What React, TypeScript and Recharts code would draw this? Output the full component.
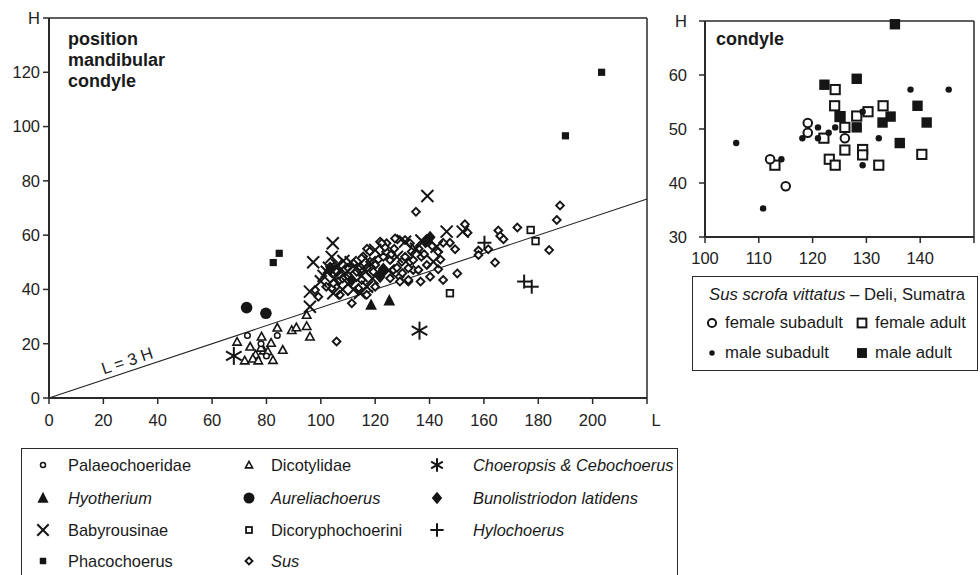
import React from 'react';
import {
  ScatterChart,
  Scatter,
  XAxis,
  YAxis,
  ReferenceLine,
  ReferenceDot,
} from 'recharts';

// ---- main chart: condyle height H against mandible length L ----
const mainXTicks = [0, 20, 40, 60, 80, 100, 120, 140, 160, 180, 200, 220];
const mainYTicks = [0, 20, 40, 60, 80, 100, 120, 140];

const palaeochoeridae: [number, number][] = [
  [73, 23], [84, 23], [78, 20], [80, 15.5],
];
const dicotylidae: [number, number][] = [
  [69.2, 20.7], [72, 13.8], [74, 18.9], [78.2, 22.6], [76, 16], [75, 14.5],
  [79, 17.5], [81.7, 20.3], [82.4, 14], [84, 25.9], [86, 17.7], [89.3, 25],
  [91, 26], [94.8, 30.6], [94.8, 26.5], [96, 22.6], [77, 13.8], [80.5, 17.2],
  [78, 18.5],
];
const choeropsis: [number, number][] = [
  [68, 15.5], [136.3, 24.8],
];
const hyotherium: [number, number][] = [
  [118.5, 34.3], [125.2, 35.9],
];
const aureliachoerus: [number, number][] = [
  [72.7, 33.3], [79.8, 31.2],
];
const bunolistriodon: [number, number][] = [
  [140.2, 59.2], [138.5, 57.5], [111.4, 43.5], [121.8, 44.7], [103.4, 47.2], [123, 47.5],
];
const babyrousinae: [number, number][] = [
  [139.2, 74.4], [104.4, 57], [97.2, 50], [96, 39.2], [96, 33.6], [120, 54.5],
  [108.3, 50.5], [104.6, 38.6], [114.4, 38.7], [102.2, 46.5], [146.3, 61.3],
  [152.2, 61.3], [142.6, 55.7], [141.4, 50.2], [131, 57.6], [101, 45], [103, 48],
  [105, 44], [107, 47], [110, 42], [112, 40], [115, 45], [118, 50], [108, 40],
  [100, 43], [113, 48], [125, 47], [128, 52], [135, 55], [137, 58], [106, 49],
  [109, 46], [111, 50], [116, 47], [119, 44], [104, 52], [117, 41],
];
const dicoryphochoerini: [number, number][] = [
  [177.2, 61.9], [179, 57.8], [147.5, 38.6],
];
const hylochoerus: [number, number][] = [
  [160.2, 57.2], [174.8, 42.9], [177.6, 41],
];
const phacochoerus: [number, number][] = [
  [203.3, 120], [190, 96.6], [84.7, 53.3], [82.5, 49.9],
];
const sus: [number, number][] = [
  [188, 70.9], [186.8, 65.6], [184, 54.5], [172.3, 62.8], [165.3, 61.7],
  [166, 59.7], [167.2, 58.5], [164.1, 49.9], [161.6, 54.8], [158, 54.3],
  [158, 52.7], [154, 60.9], [153, 64], [150.2, 45.9], [145, 43.5], [140.2, 44.7],
  [136.7, 42.9], [132.2, 42.9], [135, 68.6], [147.5, 57.2], [149.4, 54.8],
  [143.2, 47.4], [134, 47.2], [128.2, 58.5], [124.2, 57], [124, 53.9],
  [126.7, 47.2], [129, 44.7], [132.8, 50.2], [133.4, 53.9], [131, 58.2],
  [132.8, 57], [121.8, 57.6], [123.6, 55.5], [118.1, 50.2], [121.2, 51.1],
  [125.5, 50.8], [129.8, 50.2], [132.2, 47.8], [132.2, 43.5], [129.1, 42.9],
  [125.5, 44.1], [122.4, 46.5], [119.3, 46.5], [115.6, 52.1], [114.4, 48.4],
  [115, 43.5], [116.9, 38], [111.4, 34.9], [113.8, 40.4], [104, 40.4],
  [106.4, 42.9], [97.9, 39.8], [99.1, 37.3], [113.2, 46.5], [112, 49.6],
  [105.8, 46.5], [104.6, 42.3], [103.4, 48.4], [115, 51.5], [105.8, 20.8],
  [122.4, 57], [127.3, 58.8], [145, 57.2], [143.2, 53.9], [135.9, 47.2],
  [134, 50.8], [110, 45], [117, 55], [127, 55], [137, 52], [139, 49],
  [108, 44], [110, 48], [117, 48], [120, 49], [123, 52], [126, 53], [128, 48],
  [130, 46], [131, 52], [136, 55], [138, 53], [141, 56], [144, 51], [107, 38],
  [102, 41], [120, 41], [118, 54],
];

// ---- inset chart: Sus scrofa vittatus, Deli (Sumatra) ----
const insetXTicks = [100, 110, 120, 130, 140, 150];
const insetYTicks = [30, 40, 50, 60, 70];

const femaleSubadult: [number, number][] = [
  [112.1, 44.4], [119.1, 51.1], [119.1, 49.3], [115, 39.4], [126, 48.3],
];
const femaleAdult: [number, number][] = [
  [113, 43.3], [122.1, 48.3], [124.2, 57.3], [124.1, 54.3], [125.1, 52.3],
  [126, 50.3], [126, 46.1], [123.1, 44.4], [124.2, 43.3], [128.2, 52.4],
  [130.3, 53.2], [129.3, 46.2], [129.3, 45.2], [133.1, 54.3], [132.3, 43.3],
  [140.3, 45.3],
];
const maleSubadult: [number, number][] = [
  [105.8, 47.4], [110.8, 35.3], [114.2, 44.4], [118.1, 48.3], [121, 50.3],
  [121, 48.3], [123, 49.3], [124.2, 50.3], [129.3, 53.2], [129.3, 43.3],
  [132.3, 48.3], [138.2, 57.3], [145.3, 57.3],
];
const maleAdult: [number, number][] = [
  [135.3, 69.4], [122.2, 58.2], [128.2, 59.3], [128.2, 50.3], [125.1, 52.3],
  [134.5, 52.3], [133, 51.2], [139.5, 54.3], [141.2, 51.2], [136.2, 47.4],
];

const INK = '#151515';
const FONT = '"Liberation Sans", Arial, sans-serif';

type Kind =
  | 'palaeo' | 'dicot' | 'choer' | 'hyoth' | 'aurel' | 'buno'
  | 'baby' | 'dicor' | 'hylo' | 'phaco' | 'sus'
  | 'fsub' | 'fad' | 'msub' | 'mad';

function marker(kind: Kind, cx: number, cy: number, s = 1): React.ReactElement {
  switch (kind) {
    case 'palaeo':
      return <circle cx={cx} cy={cy} r={2.8 * s} fill="#fff" stroke={INK} strokeWidth={1.5} />;
    case 'dicot': {
      const h = 4.2 * s;
      return (
        <polygon
          points={`${cx},${cy - h} ${cx - h},${cy + h * 0.8} ${cx + h},${cy + h * 0.8}`}
          fill="#fff" stroke={INK} strokeWidth={1.6} strokeLinejoin="miter"
        />
      );
    }
    case 'choer': {
      const r = 9 * s;
      const a = r * 0.866;
      return (
        <g stroke={INK} strokeWidth={2}>
          <line x1={cx} y1={cy - r} x2={cx} y2={cy + r} />
          <line x1={cx - a} y1={cy - r / 2} x2={cx + a} y2={cy + r / 2} />
          <line x1={cx - a} y1={cy + r / 2} x2={cx + a} y2={cy - r / 2} />
        </g>
      );
    }
    case 'hyoth': {
      const h = 6.5 * s;
      return (
        <polygon
          points={`${cx},${cy - h} ${cx - h * 0.9},${cy + h * 0.75} ${cx + h * 0.9},${cy + h * 0.75}`}
          fill={INK}
        />
      );
    }
    case 'aurel':
      return <circle cx={cx} cy={cy} r={5.8 * s} fill={INK} />;
    case 'buno': {
      const h = 6.5 * s;
      return (
        <polygon
          points={`${cx},${cy - h} ${cx + h * 0.85},${cy} ${cx},${cy + h} ${cx - h * 0.85},${cy}`}
          fill={INK}
        />
      );
    }
    case 'baby': {
      const r = 6 * s;
      return (
        <g stroke={INK} strokeWidth={2}>
          <line x1={cx - r} y1={cy - r} x2={cx + r} y2={cy + r} />
          <line x1={cx - r} y1={cy + r} x2={cx + r} y2={cy - r} />
        </g>
      );
    }
    case 'dicor': {
      const h = 3.3 * s;
      return <rect x={cx - h} y={cy - h} width={2 * h} height={2 * h} fill="#fff" stroke={INK} strokeWidth={1.8} />;
    }
    case 'hylo': {
      const r = 7 * s;
      return (
        <g stroke={INK} strokeWidth={2}>
          <line x1={cx - r} y1={cy} x2={cx + r} y2={cy} />
          <line x1={cx} y1={cy - r} x2={cx} y2={cy + r} />
        </g>
      );
    }
    case 'phaco': {
      const h = 3.6 * s;
      return <rect x={cx - h} y={cy - h} width={2 * h} height={2 * h} fill={INK} />;
    }
    case 'sus': {
      const h = 3.9 * s;
      return (
        <polygon
          points={`${cx},${cy - h} ${cx + h},${cy} ${cx},${cy + h} ${cx - h},${cy}`}
          fill="#fff" stroke={INK} strokeWidth={1.9}
        />
      );
    }
    case 'fsub':
      return <circle cx={cx} cy={cy} r={4.3 * s} fill="#fff" stroke={INK} strokeWidth={2} />;
    case 'fad': {
      const h = 4.6 * s;
      return <rect x={cx - h} y={cy - h} width={2 * h} height={2 * h} fill="#fff" stroke={INK} strokeWidth={2} />;
    }
    case 'msub':
      return <circle cx={cx} cy={cy} r={3.2 * s} fill={INK} />;
    case 'mad': {
      const h = 5.2 * s;
      return <rect x={cx - h} y={cy - h} width={2 * h} height={2 * h} fill={INK} />;
    }
  }
  return <g />;
}

const toPoints = (arr: [number, number][]) => arr.map(([x, y]) => ({ x, y }));

const shapeFor = (kind: Kind) => (p: any) => marker(kind, p.cx, p.cy);

const mainSeries: { name: string; kind: Kind; data: [number, number][] }[] = [
  { name: 'Sus', kind: 'sus', data: sus },
  { name: 'Dicotylidae', kind: 'dicot', data: dicotylidae },
  { name: 'Palaeochoeridae', kind: 'palaeo', data: palaeochoeridae },
  { name: 'Babyrousinae', kind: 'baby', data: babyrousinae },
  { name: 'Dicoryphochoerini', kind: 'dicor', data: dicoryphochoerini },
  { name: 'Bunolistriodon latidens', kind: 'buno', data: bunolistriodon },
  { name: 'Hyotherium', kind: 'hyoth', data: hyotherium },
  { name: 'Aureliachoerus', kind: 'aurel', data: aureliachoerus },
  { name: 'Hylochoerus', kind: 'hylo', data: hylochoerus },
  { name: 'Phacochoerus', kind: 'phaco', data: phacochoerus },
  { name: 'Choeropsis & Cebochoerus', kind: 'choer', data: choeropsis },
];

const insetSeries: { name: string; kind: Kind; data: [number, number][] }[] = [
  { name: 'female adult', kind: 'fad', data: femaleAdult },
  { name: 'male adult', kind: 'mad', data: maleAdult },
  { name: 'female subadult', kind: 'fsub', data: femaleSubadult },
  { name: 'male subadult', kind: 'msub', data: maleSubadult },
];

const tickStyle = { fill: '#222', fontSize: 16.5, fontFamily: FONT };

function MainXTick(props: any) {
  const { x, y, payload } = props;
  const v = payload.value;
  const label = v === 220 ? 'L' : String(v);
  return (
    <text x={x + (v === 220 ? 9 : 0)} y={y} dy="0.71em" textAnchor="middle" {...tickStyle}>
      {label}
    </text>
  );
}

function InsetXTick(props: any) {
  const { x, y, payload } = props;
  const v = payload.value;
  return (
    <text x={x} y={y} dy="0.71em" textAnchor="middle" {...tickStyle}>
      {v === 150 ? '' : String(v)}
    </text>
  );
}

function LineLabel(props: any) {
  const { cx, cy } = props;
  return (
    <text
      x={cx}
      y={cy}
      textAnchor="middle"
      dominantBaseline="central"
      transform={`rotate(-18.4 ${cx} ${cy})`}
      fill="#222"
      fontSize={16.5}
      fontFamily={FONT}
    >
      L = 3 H
    </text>
  );
}

function LegendMark({ kind, size = 20, scale = 1 }: { kind: Kind; size?: number; scale?: number }) {
  return (
    <svg width={size} height={size} style={{ display: 'block' }}>
      {marker(kind, size / 2, size / 2, scale)}
    </svg>
  );
}

const legendScale: Partial<Record<Kind, number>> = {
  choer: 0.75, hylo: 0.95, hyoth: 0.95, aurel: 0.95, buno: 0.95, baby: 0.95,
  dicot: 0.85, palaeo: 0.9, dicor: 0.9, phaco: 0.9, sus: 0.9,
};

const mainLegendRows: { kind: Kind; label: string; italic: boolean }[][] = [
  [
    { kind: 'palaeo', label: 'Palaeochoeridae', italic: false },
    { kind: 'dicot', label: 'Dicotylidae', italic: false },
    { kind: 'choer', label: 'Choeropsis & Cebochoerus', italic: true },
  ],
  [
    { kind: 'hyoth', label: 'Hyotherium', italic: true },
    { kind: 'aurel', label: 'Aureliachoerus', italic: true },
    { kind: 'buno', label: 'Bunolistriodon latidens', italic: true },
  ],
  [
    { kind: 'baby', label: 'Babyrousinae', italic: false },
    { kind: 'dicor', label: 'Dicoryphochoerini', italic: false },
    { kind: 'hylo', label: 'Hylochoerus', italic: true },
  ],
  [
    { kind: 'phaco', label: 'Phacochoerus', italic: false },
    { kind: 'sus', label: 'Sus', italic: true },
  ],
];

const legendMarkX = [43, 249, 437];
const legendTextX = [68, 271, 473];
const legendRowsY = [465, 498, 530, 561];

export default function App() {
  return (
    <div
      style={{
        position: 'absolute',
        left: 0,
        top: 0,
        width: 980,
        height: 575,
        overflow: 'hidden',
        background: '#fff',
        fontFamily: FONT,
        color: '#1a1a1a',
      }}
    >
      {/* main scatter */}
      <div style={{ position: 'absolute', left: 0, top: 0 }}>
        <ScatterChart width={680} height={436} margin={{ top: 18, right: 33, left: 0, bottom: 0 }}>
          <XAxis
            type="number"
            dataKey="x"
            domain={[0, 220]}
            ticks={mainXTicks}
            interval={0}
            height={38}
            tickSize={6}
            tickMargin={10}
            axisLine={{ stroke: '#2a2a2a', strokeWidth: 2 }}
            tickLine={{ stroke: '#2a2a2a', strokeWidth: 1.5 }}
            tick={<MainXTick />}
          />
          <YAxis
            type="number"
            dataKey="y"
            domain={[0, 140]}
            ticks={mainYTicks}
            interval={0}
            width={49}
            tickSize={6}
            tickMargin={3}
            axisLine={{ stroke: '#2a2a2a', strokeWidth: 2 }}
            tickLine={{ stroke: '#2a2a2a', strokeWidth: 1.5 }}
            tick={tickStyle}
            tickFormatter={(v: number) => (v === 140 ? 'H' : String(v))}
          />
          <ReferenceLine y={140} stroke="#2a2a2a" strokeWidth={1.5} />
          <ReferenceLine x={220} stroke="#2a2a2a" strokeWidth={1.5} />
          <ReferenceLine
            segment={[{ x: 0, y: 0 }, { x: 220, y: 220 / 3 }]}
            stroke="#222"
            strokeWidth={1.1}
            ifOverflow="visible"
          />
          <ReferenceDot x={28.7} y={13.8} r={0} shape={<LineLabel />} ifOverflow="visible" />
          {mainSeries.map((s) => (
            <Scatter
              key={s.name}
              name={s.name}
              data={toPoints(s.data)}
              shape={shapeFor(s.kind)}
              isAnimationActive={false}
            />
          ))}
        </ScatterChart>
      </div>
      <div style={{ position: 'absolute', left: 68, top: 29, fontWeight: 'bold', fontSize: 18, lineHeight: '21px' }}>
        position
        <br />
        mandibular
        <br />
        condyle
      </div>

      {/* inset scatter */}
      <div style={{ position: 'absolute', left: 660, top: 0 }}>
        <ScatterChart width={320} height={269} margin={{ top: 21, right: 6, left: 0, bottom: 0 }}>
          <XAxis
            type="number"
            dataKey="x"
            domain={[100, 150]}
            ticks={insetXTicks}
            interval={0}
            height={32}
            tickSize={6}
            tickMargin={9}
            axisLine={{ stroke: '#2a2a2a', strokeWidth: 2 }}
            tickLine={{ stroke: '#2a2a2a', strokeWidth: 1.5 }}
            tick={<InsetXTick />}
          />
          <YAxis
            type="number"
            dataKey="y"
            domain={[30, 70]}
            ticks={insetYTicks}
            interval={0}
            width={45}
            tickSize={6}
            tickMargin={12}
            axisLine={{ stroke: '#2a2a2a', strokeWidth: 2 }}
            tickLine={{ stroke: '#2a2a2a', strokeWidth: 1.5 }}
            tick={tickStyle}
            tickFormatter={(v: number) => (v === 70 ? 'H' : String(v))}
          />
          <ReferenceLine y={70} stroke="#2a2a2a" strokeWidth={1.5} />
          <ReferenceLine x={150} stroke="#2a2a2a" strokeWidth={1.5} />
          {insetSeries.map((s) => (
            <Scatter
              key={s.name}
              name={s.name}
              data={toPoints(s.data)}
              shape={shapeFor(s.kind)}
              isAnimationActive={false}
            />
          ))}
        </ScatterChart>
      </div>
      <div style={{ position: 'absolute', left: 716, top: 29, fontWeight: 'bold', fontSize: 18 }}>condyle</div>

      {/* inset legend */}
      <div
        style={{
          position: 'absolute',
          left: 692,
          top: 276,
          width: 286,
          height: 95,
          border: '1.5px solid #2a2a2a',
          boxSizing: 'border-box',
        }}
      />
      <div style={{ position: 'absolute', left: 709, top: 285, whiteSpace: 'nowrap', fontSize: 16.7, lineHeight: '20px' }}>
        <i>Sus scrofa vittatus</i> – Deli, Sumatra
      </div>
      {[
        { kind: 'fsub' as Kind, label: 'female subadult', mx: 712, tx: 725, y: 323 },
        { kind: 'fad' as Kind, label: 'female adult', mx: 862, tx: 875, y: 323 },
        { kind: 'msub' as Kind, label: 'male subadult', mx: 712, tx: 725, y: 353 },
        { kind: 'mad' as Kind, label: 'male adult', mx: 862, tx: 875, y: 353 },
      ].map((it) => (
        <React.Fragment key={it.label}>
          <div style={{ position: 'absolute', left: it.mx - 8, top: it.y - 8 }}>
            <LegendMark kind={it.kind} size={16} scale={it.kind === 'msub' ? 0.85 : 0.95} />
          </div>
          <div style={{ position: 'absolute', left: it.tx, top: it.y - 10, whiteSpace: 'nowrap', fontSize: 16.7, lineHeight: '20px' }}>
            {it.label}
          </div>
        </React.Fragment>
      ))}

      {/* main legend */}
      <div
        style={{
          position: 'absolute',
          left: 21,
          top: 448,
          width: 657,
          height: 140,
          border: '1.5px solid #2a2a2a',
          boxSizing: 'border-box',
        }}
      />
      {mainLegendRows.map((row, ri) =>
        row.map((it, ci) => (
          <React.Fragment key={it.label}>
            <div style={{ position: 'absolute', left: legendMarkX[ci] - 10, top: legendRowsY[ri] - 10 }}>
              <LegendMark kind={it.kind} scale={legendScale[it.kind] ?? 1} />
            </div>
            <div
              style={{
                position: 'absolute',
                left: legendTextX[ci],
                top: legendRowsY[ri] - 10,
                lineHeight: '20px',
                whiteSpace: 'nowrap',
                fontSize: 16.4,
                fontStyle: it.italic ? 'italic' : 'normal',
              }}
            >
              {it.label}
            </div>
          </React.Fragment>
        ))
      )}
    </div>
  );
}
